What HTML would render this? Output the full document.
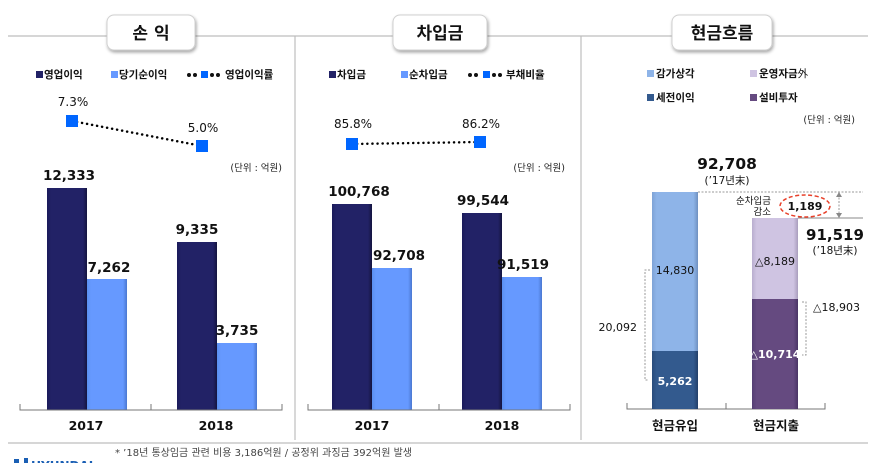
<!DOCTYPE html>
<html><head><meta charset="utf-8"><style>
body{margin:0;background:#fff;width:880px;height:463px;overflow:hidden}
svg text{font-family:"DejaVu Sans","Noto Sans CJK KR",sans-serif}
</style></head><body>
<svg width="880" height="463" viewBox="0 0 880 463" xmlns="http://www.w3.org/2000/svg">
<defs>
<linearGradient id="dk" x1="0" x2="1"><stop offset="0" stop-color="#1a1a5a"/><stop offset=".1" stop-color="#222266"/><stop offset=".9" stop-color="#222266"/><stop offset="1" stop-color="#14143f"/></linearGradient>
<linearGradient id="lt" x1="0" x2="1"><stop offset="0" stop-color="#5b8ff0"/><stop offset=".1" stop-color="#6699ff"/><stop offset=".9" stop-color="#6699ff"/><stop offset="1" stop-color="#4a78d0"/></linearGradient>
<linearGradient id="cl" x1="0" x2="1"><stop offset="0" stop-color="#7ea3d6"/><stop offset=".1" stop-color="#8eb4e8"/><stop offset=".9" stop-color="#8eb4e8"/><stop offset="1" stop-color="#6f90c0"/></linearGradient>
<linearGradient id="cd" x1="0" x2="1"><stop offset="0" stop-color="#2a4d7c"/><stop offset=".1" stop-color="#335a8e"/><stop offset=".9" stop-color="#335a8e"/><stop offset="1" stop-color="#23406a"/></linearGradient>
<linearGradient id="pl" x1="0" x2="1"><stop offset="0" stop-color="#b9aecf"/><stop offset=".1" stop-color="#cfc4e2"/><stop offset=".9" stop-color="#cfc4e2"/><stop offset="1" stop-color="#a99ebd"/></linearGradient>
<linearGradient id="pd" x1="0" x2="1"><stop offset="0" stop-color="#553f74"/><stop offset=".1" stop-color="#654a80"/><stop offset=".9" stop-color="#654a80"/><stop offset="1" stop-color="#4a3566"/></linearGradient>
<filter id="sh" x="-20%" y="-20%" width="140%" height="160%"><feDropShadow dx="1" dy="2" stdDeviation="1.5" flood-color="#000" flood-opacity=".35"/></filter>
</defs>
<g stroke="#bdbdbd" stroke-width="1.2">
<line x1="8" y1="36" x2="868" y2="36"/>
<line x1="295" y1="36" x2="295" y2="440"/>
<line x1="581" y1="36" x2="581" y2="440"/>
<line x1="8" y1="443" x2="868" y2="443"/>
</g>
<g filter="url(#sh)" fill="#fff" stroke="#d0d0d0">
<rect x="107" y="15" width="88" height="35" rx="7"/>
<rect x="393" y="15" width="94" height="35" rx="7"/>
<rect x="672" y="15" width="100" height="35" rx="7"/>
</g>
<g font-size="17" font-weight="bold" text-anchor="middle" fill="#111">
<text x="151" y="39">손 익</text>
<text x="440" y="39">차입금</text>
<text x="722" y="39">현금흐름</text>
</g>
<g font-size="10.5" font-weight="bold" fill="#111">
<rect x="36" y="71" width="7" height="7" fill="#222266"/><text x="44" y="78">영업이익</text>
<rect x="111" y="71" width="7" height="7" fill="#6699ff"/><text x="119" y="78">당기순이익</text>
<circle cx="189" cy="75" r="2"/><circle cx="195" cy="75" r="2"/><rect x="201" y="71" width="7" height="7" fill="#0066ff"/><circle cx="212" cy="75" r="2"/><circle cx="218" cy="75" r="2"/><text x="225" y="78">영업이익률</text>

<rect x="329" y="71" width="7" height="7" fill="#222266"/><text x="337" y="78">차입금</text>
<rect x="401" y="71" width="7" height="7" fill="#6699ff"/><text x="409" y="78">순차입금</text>
<circle cx="470" cy="75" r="2"/><circle cx="476" cy="75" r="2"/><rect x="483" y="71" width="7" height="7" fill="#0066ff"/><circle cx="494" cy="75" r="2"/><circle cx="500" cy="75" r="2"/><text x="506" y="78">부채비율</text>

<rect x="647" y="70" width="7" height="7" fill="#8eb4e8"/><text x="656" y="77">감가상각</text>
<rect x="750" y="70" width="7" height="7" fill="#cfc4e2"/><text x="759" y="77">운영자금<tspan font-weight="normal">外</tspan></text>
<rect x="647" y="94" width="7" height="7" fill="#335a8e"/><text x="656" y="101">세전이익</text>
<rect x="750" y="94" width="7" height="7" fill="#654a80"/><text x="759" y="101">설비투자</text>
</g>
<g font-size="9.5" fill="#222" text-anchor="end">
<text x="282" y="171">(단위 : 억원)</text>
<text x="565" y="171">(단위 : 억원)</text>
<text x="855" y="123">(단위 : 억원)</text>
</g>
<line x1="72" y1="121" x2="202" y2="146" stroke="#000" stroke-width="2.5" stroke-dasharray="0.1 5" stroke-linecap="round"/>
<rect x="66" y="115" width="12" height="12" fill="#0066ff"/><rect x="196" y="140" width="12" height="12" fill="#0066ff"/>
<line x1="352" y1="144" x2="480" y2="142" stroke="#000" stroke-width="2.5" stroke-dasharray="0.1 5" stroke-linecap="round"/>
<rect x="346" y="138" width="12" height="12" fill="#0066ff"/><rect x="474" y="136" width="12" height="12" fill="#0066ff"/>
<g font-size="12" fill="#111" text-anchor="middle">
<text x="73" y="106">7.3%</text><text x="203" y="132">5.0%</text>
<text x="353" y="128">85.8%</text><text x="481" y="128">86.2%</text>
</g>
<rect x="47" y="188" width="40" height="222" fill="url(#dk)"/>
<rect x="87" y="279" width="40" height="131" fill="url(#lt)"/>
<rect x="177" y="242" width="40" height="168" fill="url(#dk)"/>
<rect x="217" y="343" width="40" height="67" fill="url(#lt)"/>
<rect x="332" y="204" width="40" height="206" fill="url(#dk)"/>
<rect x="372" y="268" width="40" height="142" fill="url(#lt)"/>
<rect x="462" y="213" width="40" height="197" fill="url(#dk)"/>
<rect x="502" y="277" width="40" height="133" fill="url(#lt)"/>
<g font-size="13.5" font-weight="bold" fill="#111" text-anchor="middle">
<text x="69" y="180">12,333</text><text x="109" y="272">7,262</text>
<text x="197" y="234">9,335</text><text x="237" y="335">3,735</text>
<text x="359" y="196">100,768</text><text x="399" y="260">92,708</text>
<text x="483" y="205">99,544</text><text x="523" y="269">91,519</text>
</g>
<g stroke="#777" stroke-width="1" fill="none">
<path d="M20 404V410H282V404M151 410V404"/>
<path d="M308 404V410H570V404M439 410V404"/>
<path d="M627 403V409H825V403M726 409V403"/>
</g>
<g font-size="12.5" font-weight="bold" fill="#111" text-anchor="middle">
<text x="86" y="430">2017</text><text x="216" y="430">2018</text>
<text x="372" y="430">2017</text><text x="502" y="430">2018</text>
<text x="675" y="430">현금유입</text><text x="776" y="430">현금지출</text>
</g>
<rect x="652" y="192" width="46" height="159" fill="url(#cl)"/>
<rect x="652" y="351" width="46" height="58" fill="url(#cd)"/>
<rect x="752" y="218" width="46" height="81" fill="url(#pl)"/>
<rect x="752" y="299" width="46" height="110" fill="url(#pd)"/>
<g stroke="#999" stroke-dasharray="2 1.5" fill="none">
<line x1="698" y1="192" x2="863" y2="192"/>
<path d="M650 270H645V380H649"/>
<path d="M802 302H806V355H802"/>
<path d="M839 194V215"/>
</g>
<line x1="798" y1="218" x2="863" y2="218" stroke="#888"/>
<path d="M836 197L839 192L842 197Z M836 213L839 218L842 213Z" fill="#888"/>
<ellipse cx="805" cy="206" rx="25" ry="11" fill="none" stroke="#e8402a" stroke-width="1.5" stroke-dasharray="4 2.5"/>
<g font-size="11" fill="#111" text-anchor="middle">
<text x="675" y="274">14,830</text>
<text x="775" y="265">△8,189</text>
<text x="805" y="210" font-weight="bold">1,189</text>
</g>
<g font-size="11" fill="#fff" text-anchor="middle" font-weight="bold">
<text x="675" y="385">5,262</text><text x="775" y="358">△10,714</text>
</g>
<text x="637" y="331" font-size="11" fill="#111" text-anchor="end">20,092</text>
<text x="813" y="311" font-size="11" fill="#111">△18,903</text>
<g font-size="9.5" fill="#111" text-anchor="end"><text x="771" y="204">순차입금</text><text x="771" y="215">감소</text></g>
<g fill="#111" text-anchor="middle">
<text x="727" y="169" font-size="15.5" font-weight="bold">92,708</text>
<text x="727" y="184" font-size="10.5">(’17년末)</text>
<text x="835" y="240" font-size="15" font-weight="bold">91,519</text>
<text x="835" y="254" font-size="10.5">(’18년末)</text>
</g>
<text x="115" y="456" font-size="10" fill="#444">* ’18년 통상임금 관련 비용 3,186억원 / 공정위 과징금 392억원 발생</text>
<rect x="14" y="459" width="5" height="4" fill="#1a5fb4"/><rect x="24" y="458" width="4" height="5" fill="#1a5fb4"/>
<text x="31" y="470" font-size="12" font-weight="bold" fill="#1a5fb4">HYUNDAI</text>
</svg>
</body></html>
